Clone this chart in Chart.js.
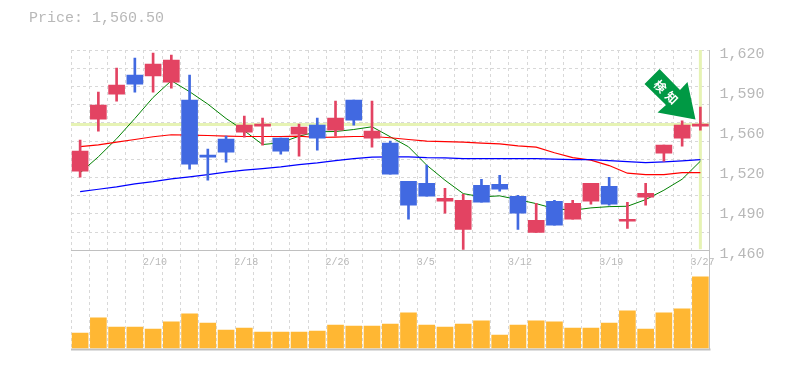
<!DOCTYPE html>
<html>
<head>
<meta charset="utf-8">
<script src="https://cdn.jsdelivr.net/npm/chart.js@4"></script>
<style>
  html, body { margin: 0; background: #fff; }
  #wrap { position: relative; width: 785px; height: 370px; }
  #price { position: absolute; left: 29px; top: 10px; font: 15px "Liberation Mono", monospace; color: #b8b8b8; }
</style>
</head>
<body>
<div id="wrap">
  <canvas id="chart" width="785" height="370"></canvas>
  <div id="price">Price: 1,560.50</div>
</div>
<script>
const dates = ['', '', '', '', '2/10', '', '', '', '', '2/18', '', '', '', '', '2/26', '', '', '', '', '3/5', '', '', '', '', '3/12', '', '', '', '', '3/19', '', '', '', '', '3/27'];

const open = [1523.2, 1564.8, 1584.8, 1600, 1599.2, 1594.4, 1580, 1536, 1548.8, 1554.4, 1559.2, 1549.6, 1552.8, 1560, 1556, 1580, 1549.6, 1545.6, 1515.2, 1513.6, 1499.2, 1476.8, 1512, 1512.8, 1503.2, 1474.4, 1499.2, 1484.8, 1499.2, 1511.2, 1483.2, 1502.4, 1537.6, 1549.6, 1559.2];
const close = [1539.2, 1576, 1592, 1592.8, 1608.8, 1612, 1528.8, 1534.4, 1538.4, 1560, 1560.8, 1539.2, 1558.4, 1549.6, 1565.6, 1564, 1555.2, 1520.8, 1496, 1503.2, 1501.6, 1500, 1498.4, 1508.8, 1489.6, 1484, 1480, 1497.6, 1513.6, 1496.8, 1484.8, 1505.6, 1544, 1560, 1560.8];
const high = [1548, 1586.4, 1605.6, 1613.6, 1617.6, 1616, 1600, 1540.8, 1551.2, 1567.2, 1565.6, 1549.6, 1560.8, 1565.6, 1579.2, 1580, 1579.2, 1547.2, 1515.2, 1528, 1509.6, 1504.8, 1516.8, 1520, 1504, 1497.6, 1500, 1500, 1513.6, 1518.4, 1498.4, 1513.6, 1544, 1563.5, 1574.4];
const low = [1518.4, 1555.2, 1579.2, 1586.4, 1586.4, 1589.6, 1524.8, 1516, 1530.4, 1550.4, 1544, 1536.8, 1535.2, 1540, 1551.2, 1560, 1542.4, 1520.8, 1484.8, 1503.2, 1489.6, 1460.8, 1498.4, 1507.2, 1476.8, 1474.4, 1480, 1484.8, 1496.8, 1496, 1477.6, 1496, 1531.2, 1543.2, 1556];

const maShort = [1521.9, 1534.7, 1549.1, 1565.3, 1582.1, 1595.5, 1586.7, 1576.8, 1565.3, 1555.5, 1544.5, 1545.9, 1551.2, 1554.7, 1554.9, 1556.5, 1558.7, 1550.7, 1542.7, 1528, 1516, 1505.3, 1502.7, 1503.5, 1500.5, 1497.3, 1493.3, 1492, 1493.9, 1494.9, 1495.2, 1500.5, 1508, 1516.8, 1531.2];
const maMid = [1542.9, 1544.3, 1546.4, 1548.5, 1550.7, 1552.3, 1552, 1551.7, 1551.2, 1550.9, 1550.9, 1550.9, 1551.2, 1550.1, 1550.4, 1550.9, 1550.9, 1549.9, 1548.5, 1547.2, 1546.9, 1546.4, 1545.6, 1545.1, 1543.5, 1542.4, 1537.9, 1534.1, 1532, 1527.7, 1521.6, 1520.5, 1520.5, 1522.1, 1522.1];
const maLong = [1506.9, 1508.8, 1510.7, 1513.1, 1514.9, 1517.1, 1518.7, 1520.5, 1522.4, 1524, 1525.3, 1526.7, 1528.5, 1529.9, 1531.7, 1533.3, 1534.4, 1534.7, 1534.7, 1534.1, 1533.9, 1533.3, 1533.3, 1533.3, 1533.3, 1533.3, 1532.8, 1532.5, 1532.5, 1531.7, 1530.9, 1530.1, 1530.7, 1531.5, 1532.5];

const volume = [4500, 9000, 6300, 6300, 5700, 7800, 10200, 7500, 5400, 6000, 4800, 4800, 4800, 5100, 6900, 6600, 6600, 7200, 10500, 6900, 6300, 7200, 8100, 3900, 6900, 8100, 7800, 6000, 6000, 7500, 11100, 5700, 10500, 11700, 21300];

const priceTicks = [1620, 1588, 1556, 1524, 1492, 1460];
const priceLabels = ['1,620', '1,590', '1,560', '1,520', '1,490', '1,460'];
const lastPrice = 1560.5;

const RED = '#e34362', BLUE = '#4169e1', GRID = '#d8d8d8', AXIS = '#c0c0c0', TEXT = '#b8b8b8';

// price panel ends at 1460, the volume panel uses the rest of the plot below it
const PRICE_MIN = 1380.8, PRICE_MAX = 1620;

const overlay = {
    id: 'overlay',
    beforeDatasetsDraw(chart) {
        const { ctx, chartArea: a, scales: { x, y } } = chart;
        const yLast = y.getPixelForValue(lastPrice);
        const xLast = x.getPixelForValue(close.length - 1);
        ctx.save();
        // last price cross
        ctx.strokeStyle = '#e6f3b4';
        ctx.lineWidth = 3;
        ctx.beginPath();
        ctx.moveTo(a.left, yLast);
        ctx.lineTo(a.right, yLast);
        ctx.moveTo(xLast, a.top);
        ctx.lineTo(xLast, y.getPixelForValue(1460) - 1);
        ctx.stroke();
        // panel frame
        const ySplit = Math.round(y.getPixelForValue(1460)) + 0.5;
        ctx.strokeStyle = AXIS;
        ctx.lineWidth = 1;
        ctx.beginPath();
        ctx.moveTo(a.left, ySplit);
        ctx.lineTo(a.right, ySplit);
        ctx.moveTo(a.right, a.top);
        ctx.lineTo(a.right, a.bottom);
        ctx.stroke();
        ctx.lineWidth = 2;
        ctx.beginPath();
        ctx.moveTo(a.left, a.bottom);
        ctx.lineTo(a.right + 1, a.bottom);
        ctx.stroke();
        ctx.restore();
    },
    afterDatasetsDraw(chart) {
        const { ctx } = chart;
        ctx.save();
        // signal arrow
        ctx.fillStyle = '#009944';
        ctx.beginPath();
        [[659.5, 69], [644.5, 84], [666, 105], [657.5, 112.5], [695.5, 119.5], [687.5, 82], [680, 90]].forEach(([px, py], i) => {
            if (i === 0) ctx.moveTo(px, py); else ctx.lineTo(px, py);
        });
        ctx.closePath();
        ctx.fill();
        ctx.fillStyle = '#fff';
        ctx.font = 'bold 12px "Noto Sans CJK JP"';
        ctx.textAlign = 'center';
        ctx.textBaseline = 'middle';
        ctx.translate(666, 92);
        ctx.rotate(Math.PI / 4);
        ctx.fillText('検', -8, 0);
        ctx.fillText('知', 8, 0);
        ctx.restore();
    }
};

new Chart(document.getElementById('chart'), {
    type: 'bar',
    plugins: [overlay],
    data: {
        labels: dates,
        datasets: [
            { type: 'bar', order: 1, yAxisID: 'y', barThickness: 16, grouped: false,
              data: open.map((o, i) => [o, close[i]]),
              backgroundColor: open.map((o, i) => close[i] >= o ? RED : BLUE) },
            { type: 'bar', order: 2, yAxisID: 'y', barThickness: 2, grouped: false,
              data: low.map((l, i) => [l, high[i]]),
              backgroundColor: open.map((o, i) => close[i] >= o ? RED : BLUE) },
            { type: 'line', order: 3, yAxisID: 'y', data: maLong, borderColor: '#0000ff', borderWidth: 1.2, pointRadius: 0, tension: 0 },
            { type: 'line', order: 3, yAxisID: 'y', data: maMid, borderColor: '#ff0000', borderWidth: 1.2, pointRadius: 0, tension: 0 },
            { type: 'line', order: 3, yAxisID: 'y', data: maShort, borderColor: '#008000', borderWidth: 1, pointRadius: 0, tension: 0 },
            { type: 'bar', order: 4, yAxisID: 'yVol', barThickness: 16, grouped: false, data: volume, backgroundColor: '#ffb733' }
        ]
    },
    options: {
        responsive: false,
        animation: false,
        layout: { padding: { left: 71, top: 50, bottom: 20.5, right: 0 } },
        plugins: { legend: { display: false }, tooltip: { enabled: false } },
        scales: {
            x: {
                position: { y: 1460 },
                offset: true,
                grid: { offset: true, color: GRID, drawTicks: false },
                border: { display: false, dash: [3, 3] },
                ticks: {
                    autoSkip: false, maxRotation: 0, align: 'start', labelOffset: -10, padding: 6,
                    color: TEXT, font: { family: '"Liberation Mono", monospace', size: 10 }
                }
            },
            y: {
                position: 'right',
                min: PRICE_MIN, max: PRICE_MAX,
                afterBuildTicks: s => { s.ticks = priceTicks.map(value => ({ value })); },
                afterFit: s => { s.width = 75.5; },
                grid: { display: false },
                border: { display: false },
                ticks: {
                    callback: v => priceLabels[priceTicks.indexOf(v)],
                    padding: 2, labelOffset: 4, align: 'center', crossAlign: 'near',
                    color: TEXT, font: { family: '"Liberation Mono", monospace', size: 15 }
                }
            },
            // horizontal dashes do not line up with the price labels
            yGrid: {
                position: 'left',
                min: PRICE_MIN, max: PRICE_MAX,
                afterBuildTicks: s => {
                    const t = [];
                    for (let i = 0; i < 11; i++) t.push({ value: PRICE_MAX - i * 160 / 11 });
                    s.ticks = t;
                },
                afterFit: s => { s.width = 0; },
                grid: { color: GRID, drawTicks: false },
                border: { display: false, dash: [3, 3] },
                ticks: { display: false }
            },
            yVol: {
                display: false,
                min: -450, max: 89250
            }
        }
    }
});
</script>
</body>
</html>
